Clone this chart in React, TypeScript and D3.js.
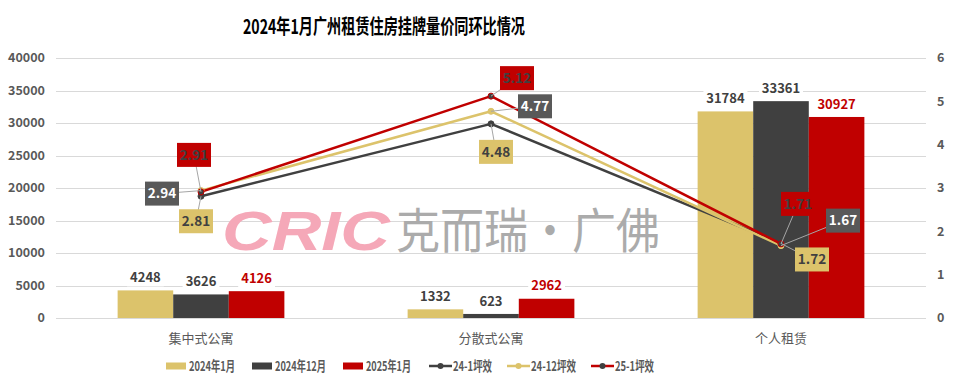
import React from "react";
import * as d3 from "d3";

const categories = ["集中式公寓", "分散式公寓", "个人租赁"];
const barSeries = ["2024年1月", "2024年12月", "2025年1月"];
const jan2024 = [4248, 1332, 31784];
const dec2024 = [3626, 623, 33361];
const jan2025 = [4126, 2962, 30927];
const lineSeries = ["24-1坪效", "24-12坪效", "25-1坪效"];
const eff2401 = [2.81, 4.48, 1.72];
const eff2412 = [2.94, 4.77, 1.67];
const eff2501 = [2.91, 5.12, 1.71];
const leftTicks = [0, 5000, 10000, 15000, 20000, 25000, 30000, 35000, 40000];
const rightTicks = [0, 1, 2, 3, 4, 5, 6];

const W = 954;
const H = 388;
const margin = { top: 58, right: 28, bottom: 70, left: 56 };
const FONT = "'Noto Sans CJK SC', 'Noto Sans', sans-serif";

const GOLD = "#DCC36B";
const DARK = "#404040";
const RED = "#C00000";

// label boxes around the points (offset of box centre from the point)
const labelOffsets = [
  [[-5, 25], [5, 28], [31, 16]],
  [[-39, 3], [44, -5], [62, -25]],
  [[-7, -37], [26, -18], [17, -40]],
];

export default function App() {
  const x0 = d3
    .scaleBand()
    .domain(categories)
    .range([margin.left, W - margin.right])
    .paddingInner(0)
    .paddingOuter(0);
  const groupW = x0.bandwidth() * 0.575;
  const x1 = d3.scaleBand().domain(barSeries).range([0, groupW]);
  const y = d3.scaleLinear().domain([0, 40000]).range([H - margin.bottom, margin.top]);
  const y2 = d3.scaleLinear().domain([0, 6]).range([H - margin.bottom, margin.top]);

  const bars = [
    { name: barSeries[0], values: jan2024, color: GOLD, label: DARK },
    { name: barSeries[1], values: dec2024, color: DARK, label: DARK },
    { name: barSeries[2], values: jan2025, color: RED, label: RED },
  ];
  const lines = [
    { name: lineSeries[0], values: eff2401, color: DARK, marker: DARK, box: GOLD, text: DARK },
    { name: lineSeries[1], values: eff2412, color: GOLD, marker: GOLD, box: "#595959", text: "#fff" },
    { name: lineSeries[2], values: eff2501, color: RED, marker: DARK, box: RED, text: DARK },
  ];

  const cx = (c: string) => (x0(c) as number) + x0.bandwidth() / 2;
  const groupStart = (c: string) => cx(c) - groupW / 2;

  const lineGen = d3
    .line<number>()
    .x((_, i) => cx(categories[i]))
    .y((v) => y2(v));

  // legend layout
  const legendItems = [
    ...bars.map((b) => ({ name: b.name, color: b.color, type: "bar", marker: b.color })),
    ...lines.map((l) => ({ name: l.name, color: l.color, type: "line", marker: l.marker })),
  ];
  const legendX = [166, 252, 343, 429, 507, 591];
  const legendTextW = [46, 51, 45, 39, 45, 39];
  const legendY = 366;

  return (
    <svg
      width={W}
      height={H}
      style={{ position: "fixed", left: 0, top: 0, background: "#fff" }}
      fontFamily={FONT}
    >
      <text
        x={384}
        y={34}
        textAnchor="middle"
        fontSize={20}
        fontWeight="bold"
        fill="#000"
        textLength={282}
        lengthAdjust="spacingAndGlyphs"
      >
        2024年1月广州租赁住房挂牌量价同环比情况
      </text>

      {/* grid */}
      {leftTicks.map((t) => (
        <line
          key={t}
          x1={margin.left}
          x2={W - margin.right}
          y1={Math.round(y(t)) + 0.5}
          y2={Math.round(y(t)) + 0.5}
          stroke="#d9d9d9"
        />
      ))}
      {leftTicks.map((t) => (
        <text
          key={"l" + t}
          x={45}
          y={y(t)}
          dy="0.35em"
          textAnchor="end"
          fontSize={12.5}
          fontWeight="bold"
          fill="#595959"
        >
          {t}
        </text>
      ))}
      {rightTicks.map((t) => (
        <text
          key={"r" + t}
          x={937}
          y={y2(t)}
          dy="0.35em"
          fontSize={12.5}
          fontWeight="bold"
          fill="#595959"
        >
          {t}
        </text>
      ))}

      {/* watermark */}
      <text
        x={222}
        y={250}
        fontFamily="'Liberation Sans', sans-serif"
        fontSize={56}
        fontWeight="bold"
        fontStyle="italic"
        fill="#F5A8B8"
        textLength={168}
        lengthAdjust="spacingAndGlyphs"
      >
        CRIC
      </text>
      <text x={396} y={248} fontSize={48} fill="#ABABAB" textLength={264} lengthAdjust="spacingAndGlyphs">
        克而瑞·广佛
      </text>

      {/* bars */}
      {bars.map((b) =>
        b.values.map((v, i) => {
          const c = categories[i];
          const bx = groupStart(c) + (x1(b.name) as number);
          return (
            <rect
              key={b.name + c}
              x={bx}
              y={y(v)}
              width={x1.bandwidth()}
              height={y(0) - y(v)}
              fill={b.color}
            />
          );
        })
      )}
      {bars.map((b) =>
        b.values.map((v, i) => {
          const c = categories[i];
          const bx = groupStart(c) + (x1(b.name) as number) + x1.bandwidth() / 2;
          const ty = y(v) - 13;
          const tw = String(v).length * 7.2 + 8;
          return (
            <g key={"bl" + b.name + c}>
              <rect x={bx - tw / 2} y={ty - 9} width={tw} height={18} fill="#fff" />
              <text
                x={bx}
                y={ty}
                dy="0.35em"
                textAnchor="middle"
                fontSize={13}
                fontWeight="bold"
                fill={b.label}
              >
                {v}
              </text>
            </g>
          );
        })
      )}

      {/* lines */}
      {lines.map((l) => (
        <path
          key={l.name}
          d={lineGen(l.values) as string}
          fill="none"
          stroke={l.color}
          strokeWidth={2.5}
          strokeLinejoin="round"
        />
      ))}
      {lines.map((l) =>
        l.values.map((v, i) => (
          <circle
            key={"m" + l.name + i}
            cx={cx(categories[i])}
            cy={y2(v)}
            r={3}
            fill={l.marker}
            stroke={l.color}
            strokeWidth={1}
          />
        ))
      )}
      {lines.map((l, si) =>
        l.values.map((v, i) => {
          const px = cx(categories[i]);
          const py = y2(v);
          const [dx, dy] = labelOffsets[si][i];
          return (
            <line
              key={"ld" + l.name + i}
              x1={px}
              y1={py}
              x2={px + dx}
              y2={py + dy}
              stroke="#a6a6a6"
              strokeWidth={1}
            />
          );
        })
      )}
      {lines.map((l, si) =>
        l.values.map((v, i) => {
          const px = cx(categories[i]);
          const py = y2(v);
          const [dx, dy] = labelOffsets[si][i];
          return (
            <g key={"lb" + l.name + i} transform={`translate(${px + dx},${py + dy})`}>
              <rect x={-17} y={-12} width={34} height={24} fill={l.box} />
              <text
                textAnchor="middle"
                dy="0.35em"
                fontSize={13.5}
                fontWeight="bold"
                fill={l.text}
              >
                {v.toFixed(2)}
              </text>
            </g>
          );
        })
      )}

      {/* category axis */}
      {categories.map((c) => (
        <text
          key={"c" + c}
          x={cx(c)}
          y={338}
          dy="0.35em"
          textAnchor="middle"
          fontSize={13}
          fill="#595959"
        >
          {c}
        </text>
      ))}

      {/* legend */}
      {legendItems.map((it, i) => (
        <g key={"lg" + it.name} transform={`translate(${legendX[i]},${legendY})`}>
          {it.type === "bar" ? (
            <rect x={0} y={-3.5} width={20} height={7} fill={it.color} />
          ) : (
            <g>
              <line x1={0} x2={23} y1={0} y2={0} stroke={it.color} strokeWidth={2.5} />
              <circle cx={11.5} cy={0} r={3} fill={it.marker} />
            </g>
          )}
          <text
            x={it.type === "bar" ? 23 : 24}
            y={0}
            dy="0.35em"
            fontSize={13.5}
            fontWeight="bold"
            fill="#595959"
            textLength={legendTextW[i]}
            lengthAdjust="spacingAndGlyphs"
          >
            {it.name}
          </text>
        </g>
      ))}
    </svg>
  );
}
